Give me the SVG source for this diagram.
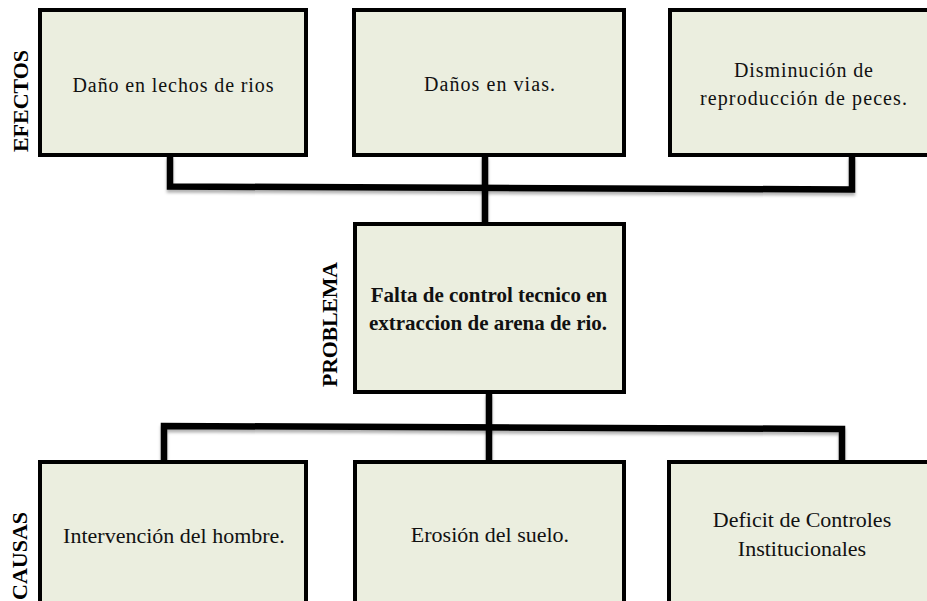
<svg xmlns="http://www.w3.org/2000/svg" width="927" height="601" viewBox="0 0 927 601">
<style>
.box{fill:#EBEEDF;stroke:#000;stroke-width:4}
.t{font-family:"Liberation Serif","Times New Roman",serif;font-size:20px;fill:#111;text-anchor:middle}
.tb{font-family:"Liberation Serif","Times New Roman",serif;font-size:22px;fill:#111;text-anchor:middle}
.tp{font-family:"Liberation Serif","Times New Roman",serif;font-size:21px;font-weight:bold;fill:#111;text-anchor:middle}
.side{font-family:"Liberation Serif","Times New Roman",serif;font-size:22px;font-weight:bold;fill:#000}
.conn{fill:none;stroke:#000;stroke-width:6.5;stroke-linejoin:miter;filter:url(#sh)}
</style>
<defs>
<filter id="sh" filterUnits="userSpaceOnUse" x="0" y="0" width="927" height="601">
<feDropShadow dx="0" dy="3" stdDeviation="1.5" flood-color="#000" flood-opacity="0.3"/>
</filter>
</defs>
<rect width="927" height="601" fill="#fff"/>
<g id="connectors">
<path class="conn" d="M170 156 L170 186.5 L852 189.5 L852 156"/>
<path class="conn" d="M485 156 L485 224"/>
<path class="conn" d="M489 393 L489 461"/>
<path class="conn" d="M164 461 L164 426 L842 429 L842 461"/>
</g>
<g id="label-efectos"><text class="side" transform="translate(28,152) rotate(-90)" textLength="102">EFECTOS</text></g>
<g id="label-problema"><text class="side" transform="translate(337,387) rotate(-90)" textLength="125">PROBLEMA</text></g>
<g id="label-causas"><text class="side" transform="translate(27,600) rotate(-90)">CAUSAS</text></g>
<g id="efecto1">
<rect class="box" x="40" y="10" width="266" height="145"/>
<text class="t" x="173" y="91.5" textLength="201">Daño en lechos de rios</text>
</g>
<g id="efecto2">
<rect class="box" x="354" y="10" width="270" height="145"/>
<text class="t" x="489.5" y="91" textLength="131">Daños en vias.</text>
</g>
<g id="efecto3">
<rect class="box" x="670" y="10" width="270" height="145"/>
<text class="t" x="803.5" y="77" textLength="139">Disminución de</text>
<text class="t" x="803.5" y="105" textLength="207">reproducción de peces.</text>
</g>
<g id="problema">
<rect class="box" x="355" y="224" width="269" height="168"/>
<text class="tp" x="489" y="302">Falta de control tecnico en</text>
<text class="tp" x="488" y="330">extraccion de arena de rio.</text>
</g>
<g id="causa1">
<rect class="box" x="40" y="462" width="266" height="160"/>
<text class="tb" x="174" y="543">Intervención del hombre.</text>
</g>
<g id="causa2">
<rect class="box" x="355" y="462" width="269" height="160"/>
<text class="tb" x="490" y="542">Erosión del suelo.</text>
</g>
<g id="causa3">
<rect class="box" x="669" y="462" width="270" height="160"/>
<text class="tb" x="802" y="527">Deficit de Controles</text>
<text class="tb" x="802" y="556">Institucionales</text>
</g>
</svg>
